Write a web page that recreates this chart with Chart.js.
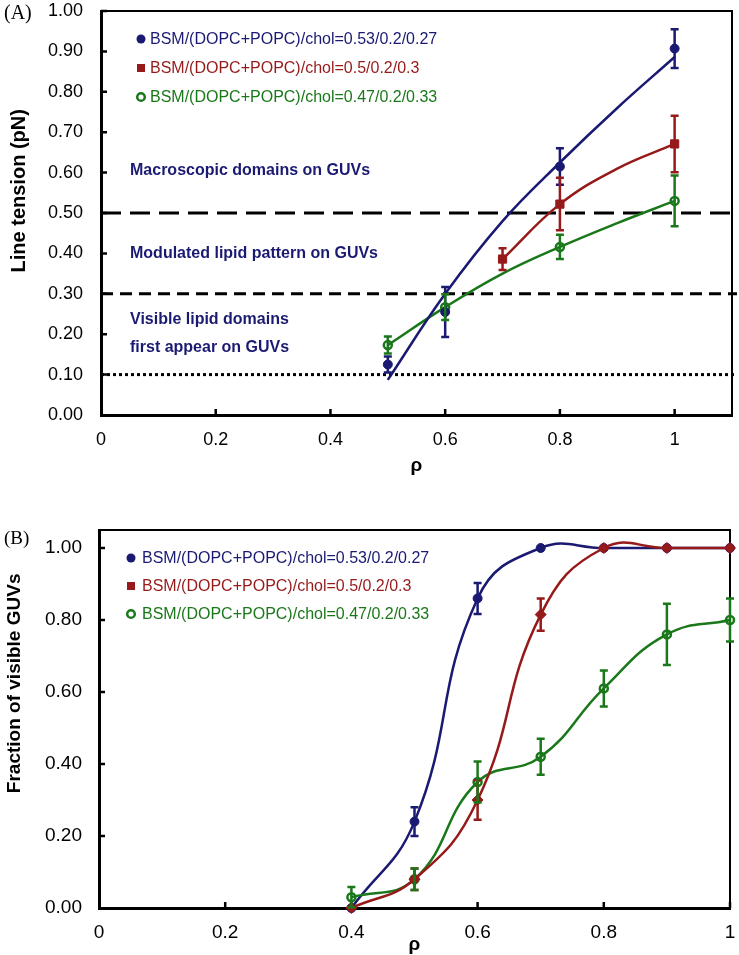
<!DOCTYPE html>
<html>
<head>
<meta charset="utf-8">
<script src="https://cdn.jsdelivr.net/npm/chart.js@4.4.1/dist/chart.umd.min.js"></script>
<style>
    html, body { margin: 0; padding: 0; background: #fff; }
    #chartA { position: absolute; left: 0; top: 0; }
    #chartB { position: absolute; left: 0; top: 480px; }
</style>
</head>
<body>
<canvas id="chartA" width="739" height="480"></canvas>
<canvas id="chartB" width="739" height="475"></canvas>
<script>
var seriesLabels = ["BSM/(DOPC+POPC)/chol=0.53/0.2/0.27", "BSM/(DOPC+POPC)/chol=0.5/0.2/0.3", "BSM/(DOPC+POPC)/chol=0.47/0.2/0.33"];
var seriesColors = ["#1a1a73", "#961a1a", "#1a781a"];

// tick values
var rhoTicks = [0, 0.2, 0.4, 0.6, 0.8, 1.0];
var tensionTicks = [0, 0.1, 0.2, 0.3, 0.4, 0.5, 0.6, 0.7, 0.8, 0.9, 1.0];
var fractionTicks = [0, 0.2, 0.4, 0.6, 0.8, 1.0];

// (A) line tension vs rho, measured points
var blueRhoA = [0.5, 0.6, 0.8, 1.0];
var blueTensionA = [0.125, 0.255, 0.615, 0.907];
var blueErrA = [0.02, 0.062, 0.045, 0.048];
var redRhoA = [0.7, 0.8, 1.0];
var redTensionA = [0.386, 0.522, 0.671];
var redErrA = [0.027, 0.065, 0.07];
var greenRhoA = [0.5, 0.6, 0.8, 1.0];
var greenTensionA = [0.173, 0.267, 0.416, 0.53];
var greenErrA = [0.021, 0.032, 0.03, 0.063];

// (A) fitted curves
var blueFitRhoA = [0.5, 0.6, 0.7, 0.8, 0.9, 1.0];
var blueFitA = [0.087, 0.30, 0.48, 0.625, 0.76, 0.886];
var redFitRhoA = [0.7, 0.8, 0.9, 1.0];
var redFitA = [0.386, 0.522, 0.61, 0.671];
var greenFitRhoA = [0.5, 0.6, 0.7, 0.8, 0.9, 1.0];
var greenFitA = [0.173, 0.267, 0.35, 0.416, 0.475, 0.53];

// (A) threshold lines and region labels
var thresholdsA = [0.5, 0.3, 0.1];
var regionLabelsA = ["Macroscopic domains on GUVs", "Modulated lipid pattern on GUVs", "Visible lipid domains", "first appear on GUVs"];
var regionLabelYA = [0.605, 0.40, 0.235, 0.166];

// (B) fraction of visible GUVs vs rho
var rhoB = [0.4, 0.5, 0.6, 0.7, 0.8, 0.9, 1.0];
var blueFracB = [0, 0.24, 0.86, 1, 1, 1, 1];
var blueErrB = [0, 0.04, 0.043, 0, 0, 0, 0];
var redFracB = [0, 0.08, 0.30, 0.815, 1, 1, 1];
var redErrB = [0, 0.03, 0.055, 0.045, 0, 0, 0];
var greenFracB = [0.03, 0.08, 0.35, 0.42, 0.61, 0.76, 0.80];
var greenErrB = [0.028, 0.03, 0.057, 0.05, 0.05, 0.085, 0.06];

var FONT = "'Liberation Sans', Arial, sans-serif";

function toPoints(xs, ys) {
    return xs.map(function(x, i) { return {x: x, y: ys[i]}; });
}

function drawMarker(ctx, style, x, y, color) {
    ctx.save();
    ctx.fillStyle = color;
    ctx.strokeStyle = color;
    ctx.beginPath();
    if (style === "square") {
        ctx.rect(x - 4, y - 4, 8, 8);
        ctx.fill();
    } else if (style === "open") {
        ctx.lineWidth = 2.5;
        ctx.arc(x, y, 3.8, 0, Math.PI * 2);
        ctx.stroke();
    } else {
        ctx.arc(x, y, 4.5, 0, Math.PI * 2);
        ctx.fill();
    }
    ctx.restore();
}

var decorPlugin = {
    id: "decor",
    beforeDatasetsDraw: function(chart, args, opts) {
        var ctx = chart.ctx;
        var area = chart.chartArea;
        var xs = chart.scales.x;
        var ys = chart.scales.y;
        ctx.save();

        // dashed threshold lines run out past the frame
        (opts.refLines || []).forEach(function(r) {
            var py = ys.getPixelForValue(r.value);
            ctx.beginPath();
            ctx.setLineDash(r.dash);
            ctx.lineWidth = 3;
            ctx.strokeStyle = "#000";
            ctx.moveTo(area.left, py);
            ctx.lineTo(chart.width - 2, py);
            ctx.stroke();
        });
        ctx.setLineDash([]);

        // top and right frame
        ctx.strokeStyle = "#000";
        ctx.lineWidth = 2;
        ctx.beginPath();
        ctx.moveTo(area.left, area.top);
        ctx.lineTo(area.right, area.top);
        ctx.lineTo(area.right, area.bottom);
        ctx.stroke();

        // inward tick marks
        ctx.lineWidth = 2.5;
        ctx.beginPath();
        xs.ticks.forEach(function(t) {
            if (t.value === 0) return;
            var px = xs.getPixelForValue(t.value);
            ctx.moveTo(px, area.bottom);
            ctx.lineTo(px, area.bottom - 6);
        });
        ys.ticks.forEach(function(t) {
            if (t.value === 0) return;
            var py = ys.getPixelForValue(t.value);
            ctx.moveTo(area.left, py);
            ctx.lineTo(area.left + 6, py);
        });
        ctx.stroke();

        // region labels
        ctx.fillStyle = seriesColors[0];
        ctx.font = "bold 16px " + FONT;
        ctx.textAlign = "left";
        ctx.textBaseline = "middle";
        (opts.notes || []).forEach(function(n) {
            ctx.fillText(n.text, area.left + 29, ys.getPixelForValue(n.y));
        });

        // legend
        var lg = opts.legend;
        ctx.font = "16px " + FONT;
        seriesLabels.forEach(function(label, i) {
            var py = area.top + lg.top + i * lg.step;
            drawMarker(ctx, lg.styles[i], area.left + lg.marker, py, seriesColors[i]);
            ctx.fillStyle = seriesColors[i];
            ctx.fillText(label, area.left + lg.text, py + 1);
        });

        // axis titles and panel letter
        ctx.fillStyle = "#000";
        ctx.font = "bold " + opts.yTitleSize + "px " + FONT;
        ctx.textAlign = "center";
        ctx.save();
        ctx.translate(opts.yTitleX, ys.getPixelForValue(opts.yTitleAt));
        ctx.rotate(-Math.PI / 2);
        ctx.fillText(opts.yTitle, 0, 0);
        ctx.restore();

        ctx.font = "bold 19px " + FONT;
        ctx.fillText("\u03c1", (area.left + area.right) / 2, opts.xTitleY);

        ctx.font = opts.letterSize + "px 'Liberation Serif', 'Times New Roman', serif";
        ctx.textAlign = "left";
        ctx.fillText(opts.letter, 4, opts.letterY);
        ctx.restore();
    },
    afterDatasetsDraw: function(chart) {
        var ctx = chart.ctx;
        var ys = chart.scales.y;
        ctx.save();
        chart.data.datasets.forEach(function(ds, i) {
            if (!ds.errors) return;
            var meta = chart.getDatasetMeta(i);
            ctx.strokeStyle = ds.borderColor;
            ctx.lineWidth = 2.5;
            ctx.beginPath();
            meta.data.forEach(function(pt, j) {
                var e = ds.errors[j];
                if (!e) return;
                var v = ds.data[j].y;
                var top = ys.getPixelForValue(v + e);
                var bot = ys.getPixelForValue(v - e);
                ctx.moveTo(pt.x, top);
                ctx.lineTo(pt.x, bot);
                ctx.moveTo(pt.x - 4, top);
                ctx.lineTo(pt.x + 4, top);
                ctx.moveTo(pt.x - 4, bot);
                ctx.lineTo(pt.x + 4, bot);
            });
            ctx.stroke();
        });
        ctx.restore();
    }
};

function fitLine(xs, ys, color) {
    return {
        data: toPoints(xs, ys),
        showLine: true,
        borderColor: color,
        borderWidth: 2.5,
        pointRadius: 0,
        tension: 0.4,
        fill: false,
        order: 5
    };
}

function pointSet(xs, ys, errs, color, style, radius, hollow) {
    return {
        data: toPoints(xs, ys),
        errors: errs,
        showLine: false,
        borderColor: color,
        backgroundColor: hollow ? "rgba(0,0,0,0)" : color,
        pointStyle: style,
        pointRadius: radius,
        pointBorderWidth: hollow ? 2.5 : 1,
        clip: false
    };
}

function setTicks(values) {
    return function(s) {
        s.ticks = values.map(function(v) { return { value: v }; });
    };
}

function xAxis(max, height, size, pad) {
    return {
        type: "linear",
        min: 0,
        max: max,
        grid: { display: false, drawTicks: false },
        border: { display: true, color: "#000", width: 3 },
        ticks: {
            padding: pad,
            color: "#000",
            font: { family: FONT, size: size },
            callback: function(v) { return String(Math.round(v * 10) / 10); }
        },
        afterBuildTicks: setTicks(rhoTicks),
        afterFit: function(s) {
            s.height = height;
            s.paddingLeft = 0;
            s.paddingRight = 0;
        }
    };
}

function yAxis(max, ticks, width, size, pad) {
    return {
        type: "linear",
        min: 0,
        max: max,
        grid: { display: false, drawTicks: false },
        border: { display: true, color: "#000", width: 3 },
        ticks: {
            padding: pad,
            color: "#000",
            font: { family: FONT, size: size },
            callback: function(v) { return v.toFixed(2); }
        },
        afterBuildTicks: setTicks(ticks),
        afterFit: function(s) {
            s.width = width;
            s.paddingTop = 0;
            s.paddingBottom = 0;
        }
    };
}

new Chart(document.getElementById("chartA"), {
    type: "scatter",
    data: {
        datasets: [
            fitLine(blueFitRhoA, blueFitA, seriesColors[0]),
            fitLine(redFitRhoA, redFitA, seriesColors[1]),
            fitLine(greenFitRhoA, greenFitA, seriesColors[2]),
            pointSet(blueRhoA, blueTensionA, blueErrA, seriesColors[0], "circle", 4.5, false),
            pointSet(redRhoA, redTensionA, redErrA, seriesColors[1], "rect", 5.8, false),
            pointSet(greenRhoA, greenTensionA, greenErrA, seriesColors[2], "circle", 4, true)
        ]
    },
    options: {
        responsive: false,
        animation: false,
        layout: { padding: { top: 11, right: 7, left: 0, bottom: 0 } },
        plugins: {
            legend: { display: false },
            tooltip: { enabled: false },
            decor: {
                refLines: [
                    { value: thresholdsA[0], dash: [20, 9] },
                    { value: thresholdsA[1], dash: [12, 7] },
                    { value: thresholdsA[2], dash: [3, 3] }
                ],
                notes: regionLabelsA.map(function(t, i) { return { text: t, y: regionLabelYA[i] }; }),
                legend: { top: 28, step: 29, marker: 40, text: 49, styles: ["circle", "square", "open"] },
                yTitle: "Line tension (pN)",
                yTitleSize: 20,
                yTitleX: 19,
                yTitleAt: 0.555,
                xTitleY: 466,
                letter: "(A)",
                letterSize: 20,
                letterY: 14
            }
        },
        scales: {
            x: xAxis(1.1, 65, 18, 14),
            y: yAxis(1.0, tensionTicks, 101, 18, 18)
        }
    },
    plugins: [decorPlugin]
});

new Chart(document.getElementById("chartB"), {
    type: "scatter",
    data: {
        datasets: [
            Object.assign(pointSet(rhoB, blueFracB, blueErrB, seriesColors[0], "circle", 4.5, false),
                { showLine: true, borderWidth: 2.5, tension: 0.45, order: 3 }),
            Object.assign(pointSet(rhoB, redFracB, redErrB, seriesColors[1], "rectRot", 5.5, false),
                { showLine: true, borderWidth: 2.5, tension: 0.45, order: 1 }),
            Object.assign(pointSet(rhoB, greenFracB, greenErrB, seriesColors[2], "circle", 4, true),
                { showLine: true, borderWidth: 2.5, tension: 0.45, order: 2 })
        ]
    },
    options: {
        responsive: false,
        animation: false,
        layout: { padding: { top: 50, right: 9, left: 0, bottom: 0 } },
        plugins: {
            legend: { display: false },
            tooltip: { enabled: false },
            decor: {
                refLines: [],
                notes: [],
                legend: { top: 28, step: 28, marker: 32, text: 43, styles: ["circle", "square", "open"] },
                yTitle: "Fraction of visible GUVs",
                yTitleSize: 19,
                yTitleX: 15,
                yTitleAt: 0.624,
                xTitleY: 465,
                letter: "(B)",
                letterSize: 19,
                letterY: 59
            }
        },
        scales: {
            x: xAxis(1.0, 47, 19, 13),
            y: yAxis(1.05, fractionTicks, 99, 19, 17)
        }
    },
    plugins: [decorPlugin]
});
</script>
</body>
</html>
